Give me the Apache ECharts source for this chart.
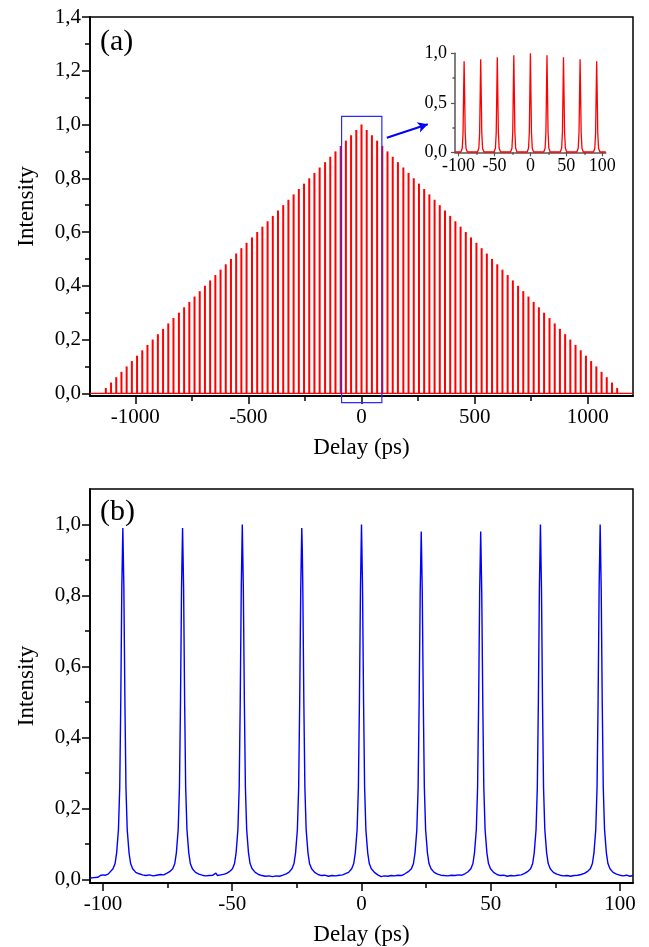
<!DOCTYPE html>
<html>
<head>
<meta charset="utf-8">
<script src="https://cdn.jsdelivr.net/npm/echarts@6/dist/echarts.min.js"></script>
<style>
html,body{margin:0;padding:0;background:#fff;}
#c{width:649px;height:947px;}
</style>
</head>
<body>
<div id="c"></div>
<script>
// ---------- Panel (a): spike centres (ps) and peak intensities ----------
const spikeDelays = [
  -1130,-1107,-1084,-1061,-1038,-1015,-992,-969,-946,-923,
  -900,-877,-854,-831,-807,-784,-761,-738,-715,-692,
  -669,-646,-623,-600,-577,-554,-531,-508,-484,-461,
  -438,-415,-392,-369,-346,-323,-300,-277,-254,-231,
  -208,-185,-161,-138,-115,-92,-69,-46,-23,
  0,
  23,46,69,92,115,138,161,185,208,
  231,254,277,300,323,346,369,392,415,438,
  461,484,508,531,554,577,600,623,646,669,
  692,715,738,761,784,807,831,854,877,900,
  923,946,969,992,1015,1038,1061,1084,1107,1130
];
const spikeIntensities = [
  0.02,0.04,0.06,0.08,0.10,0.12,0.14,0.16,0.18,0.20,
  0.22,0.24,0.26,0.28,0.30,0.32,0.34,0.36,0.38,0.40,
  0.42,0.44,0.46,0.48,0.50,0.52,0.54,0.56,0.58,0.60,
  0.62,0.64,0.66,0.68,0.70,0.72,0.74,0.76,0.78,0.80,
  0.82,0.84,0.86,0.88,0.90,0.92,0.94,0.96,0.98,
  1.00,
  0.98,0.96,0.94,0.92,0.90,0.88,0.86,0.84,0.82,
  0.80,0.78,0.76,0.74,0.72,0.70,0.68,0.66,0.64,0.62,
  0.60,0.58,0.56,0.54,0.52,0.50,0.48,0.46,0.44,0.42,
  0.40,0.38,0.36,0.34,0.32,0.30,0.28,0.26,0.24,0.22,
  0.20,0.18,0.16,0.14,0.12,0.10,0.08,0.06,0.04,0.02
];
const baselineA = [[-1200, 0], [1200, 0]];
// zoom box: [x1, y1, x2, y2] in data units
const zoomBox = [[-88, 1.03, 90, -0.035]];
const zoomArrow = [[112, 0.951], [293, 1.001]];

// ---------- Inset of (a): trace around zero delay ----------
const insetTrace = [
  [-105,0.003],
  [-96.8,0.003],[-94.9,0.04],[-93.8,0.2],[-93.0,0.6],[-92.3,0.92],[-91.6,0.6],[-90.8,0.2],[-89.7,0.04],[-87.8,0.003],
  [-73.7,0.003],[-71.8,0.04],[-70.7,0.2],[-69.9,0.6],[-69.2,0.94],[-68.5,0.6],[-67.7,0.2],[-66.6,0.04],[-64.7,0.003],
  [-50.6,0.003],[-48.7,0.04],[-47.6,0.2],[-46.8,0.6],[-46.1,0.96],[-45.4,0.6],[-44.6,0.2],[-43.5,0.04],[-41.6,0.003],
  [-27.6,0.003],[-25.7,0.04],[-24.6,0.2],[-23.8,0.62],[-23.1,0.98],[-22.4,0.62],[-21.6,0.2],[-20.5,0.04],[-18.6,0.003],
  [-4.5,0.003],[-2.6,0.04],[-1.5,0.2],[-0.7,0.62],[0,1.00],[0.7,0.62],[1.5,0.2],[2.6,0.04],[4.5,0.003],
  [18.6,0.003],[20.5,0.04],[21.6,0.2],[22.4,0.62],[23.1,0.98],[23.8,0.62],[24.6,0.2],[25.7,0.04],[27.6,0.003],
  [41.6,0.003],[43.5,0.04],[44.6,0.2],[45.4,0.6],[46.1,0.96],[46.8,0.6],[47.6,0.2],[48.7,0.04],[50.6,0.003],
  [64.7,0.003],[66.6,0.04],[67.7,0.2],[68.5,0.6],[69.2,0.94],[69.9,0.6],[70.7,0.2],[71.8,0.04],[73.7,0.003],
  [87.8,0.003],[89.7,0.04],[90.8,0.2],[91.6,0.6],[92.3,0.92],[93.0,0.6],[93.8,0.2],[94.9,0.04],[96.8,0.003],
  [105,0.003]
];

// ---------- Panel (b): measured trace ----------
const traceB = [
  [-105,0.004],[-103.5,0.005],[-102,0.006],[-101,0.011],[-100,0.013],[-99,0.012],[-98,0.015],
  [-97.3,0.02],[-96.1,0.03],[-95.3,0.045],[-94.7,0.075],[-94.0,0.14],[-93.5,0.26],[-93.1,0.50],[-92.7,0.82],
  [-92.3,0.99],[-91.9,0.82],[-91.5,0.50],[-91.1,0.26],[-90.6,0.14],[-89.9,0.075],[-89.3,0.045],[-88.5,0.03],[-87.3,0.02],
  [-86.0,0.016],[-84.7,0.013],[-83.4,0.011],[-82.0,0.013],[-80.6,0.010],[-79.2,0.012],[-77.8,0.014],[-76.5,0.013],[-75.2,0.018],
  [-74.2,0.022],[-73.0,0.03],[-72.2,0.045],[-71.6,0.075],[-70.9,0.14],[-70.4,0.26],[-70.0,0.50],[-69.6,0.82],
  [-69.2,0.99],[-68.8,0.82],[-68.4,0.50],[-68.0,0.26],[-67.5,0.14],[-66.8,0.075],[-66.2,0.045],[-65.4,0.03],[-64.2,0.02],
  [-62.9,0.015],[-61.6,0.012],[-60.3,0.010],[-58.9,0.011],[-57.5,0.012],[-56.3,0.018],[-55.7,0.011],[-54.4,0.013],[-53.0,0.015],[-52.0,0.018],
  [-51.1,0.022],[-49.9,0.03],[-49.1,0.045],[-48.5,0.075],[-47.8,0.14],[-47.3,0.26],[-46.9,0.50],[-46.5,0.82],
  [-46.1,1.00],[-45.7,0.82],[-45.3,0.50],[-44.9,0.26],[-44.4,0.14],[-43.7,0.075],[-43.1,0.045],[-42.3,0.03],[-41.1,0.02],
  [-39.8,0.014],[-38.5,0.011],[-37.2,0.009],[-35.8,0.010],[-34.4,0.008],[-33.0,0.010],[-31.7,0.009],[-30.4,0.012],[-29.1,0.016],
  [-28.1,0.02],[-26.9,0.03],[-26.1,0.045],[-25.5,0.075],[-24.8,0.14],[-24.3,0.26],[-23.9,0.50],[-23.5,0.82],
  [-23.1,0.99],[-22.9,0.93],[-22.7,0.82],[-22.3,0.50],[-21.9,0.26],[-21.4,0.14],[-20.7,0.075],[-20.1,0.045],[-19.3,0.03],[-18.1,0.02],
  [-16.8,0.014],[-15.5,0.011],[-14.2,0.012],[-12.8,0.009],[-11.4,0.011],[-10.0,0.010],[-8.6,0.012],[-7.3,0.013],[-6.0,0.017],
  [-5.0,0.02],[-3.8,0.03],[-3.0,0.045],[-2.4,0.075],[-1.7,0.14],[-1.2,0.26],[-0.8,0.50],[-0.4,0.82],
  [0,1.00],[0.4,0.82],[0.8,0.50],[1.2,0.26],[1.7,0.14],[2.4,0.075],[3.0,0.045],[3.8,0.03],[5.0,0.02],
  [6.3,0.013],[7.6,0.008],[8.9,0.010],[10.2,0.009],[11.5,0.011],[12.8,0.010],[14.1,0.012],[15.4,0.011],[16.8,0.016],
  [18.1,0.022],[19.3,0.03],[20.1,0.045],[20.7,0.075],[21.4,0.14],[21.9,0.26],[22.3,0.50],[22.7,0.81],
  [23.1,0.98],[23.5,0.81],[23.9,0.50],[24.3,0.26],[24.8,0.14],[25.5,0.075],[26.1,0.045],[26.9,0.03],[28.1,0.02],
  [29.4,0.015],[30.7,0.012],[32.0,0.011],[33.4,0.010],[34.8,0.012],[36.1,0.011],[37.5,0.013],[38.8,0.012],[40.0,0.016],
  [41.1,0.021],[42.3,0.03],[43.1,0.045],[43.7,0.075],[44.4,0.14],[44.9,0.26],[45.3,0.50],[45.7,0.81],
  [46.1,0.98],[46.5,0.81],[46.9,0.50],[47.3,0.26],[47.8,0.14],[48.5,0.075],[49.1,0.045],[49.9,0.03],[51.1,0.02],
  [52.4,0.014],[53.7,0.011],[55.0,0.012],[56.4,0.009],[57.8,0.011],[59.1,0.010],[60.5,0.012],[61.8,0.013],[63.1,0.017],
  [64.2,0.022],[65.4,0.03],[66.2,0.045],[66.8,0.075],[67.5,0.14],[68.0,0.26],[68.4,0.50],[68.8,0.82],
  [69.2,1.00],[69.6,0.82],[70.0,0.50],[70.4,0.26],[70.9,0.14],[71.6,0.075],[72.2,0.045],[73.0,0.03],[74.2,0.02],
  [75.5,0.015],[76.8,0.012],[78.1,0.010],[79.5,0.011],[80.9,0.009],[82.2,0.011],[83.6,0.012],[84.9,0.014],[86.2,0.017],
  [87.3,0.022],[88.5,0.03],[89.3,0.045],[89.9,0.075],[90.6,0.14],[91.1,0.26],[91.5,0.50],[91.9,0.82],
  [92.3,1.00],[92.7,0.82],[93.1,0.50],[93.5,0.26],[94.0,0.14],[94.7,0.075],[95.3,0.045],[96.1,0.03],[97.3,0.02],
  [98.6,0.015],[99.9,0.012],[101.2,0.010],[102.5,0.012],[103.8,0.009],[105,0.011]
];

// ---------- Tick values ----------
const xMajorA = [-1000, -500, 0, 500, 1000];
const xMinorA = [-750, -250, 250, 750];
const yMajorA = [0, 0.2, 0.4, 0.6, 0.8, 1.0, 1.2, 1.4];
const yMinorA = [0.1, 0.3, 0.5, 0.7, 0.9, 1.1, 1.3];
const xMajorInset = [-100, -50, 0, 50, 100];
const xMinorInset = [-75, -25, 25, 75];
const yMajorInset = [0, 0.5, 1.0];
const yMinorInset = [0.25, 0.75];
const xMajorB = [-100, -50, 0, 50, 100];
const xMinorB = [-75, -25, 25, 75];
const yMajorB = [0, 0.2, 0.4, 0.6, 0.8, 1.0];
const yMinorB = [0.1, 0.3, 0.5, 0.7, 0.9];

// ---------- Chart ----------
const FONT = "'Liberation Serif','Times New Roman',serif";
const comma = v => v.toFixed(1).replace('.', ',');
const plain = v => String(v);

function mainAxis(kind, grid, min, max, major, fmt, name, nameGap) {
  return {
    type: 'value', gridIndex: grid, min: min, max: max,
    position: kind === 'y' ? 'left' : 'bottom',
    axisLine: { show: true, onZero: false, lineStyle: { color: '#000', width: 1.8 } },
    axisTick: { show: true, inside: false, length: 8, customValues: major, lineStyle: { color: '#000', width: 1.5 } },
    axisLabel: { show: true, customValues: major, formatter: fmt, color: '#000', fontFamily: FONT, fontSize: 21, margin: kind === 'x' ? 11 : 9 },
    splitLine: { show: false },
    name: name, nameLocation: 'middle', nameGap: nameGap,
    nameTextStyle: { color: '#000', fontFamily: FONT, fontSize: 23 }
  };
}
function minorAxis(kind, grid, min, max, minor, len, color) {
  return {
    type: 'value', gridIndex: grid, min: min, max: max,
    position: kind === 'y' ? 'left' : 'bottom',
    axisLine: { show: false, onZero: false },
    axisTick: { show: true, inside: false, length: len, customValues: minor, lineStyle: { color: color, width: 1.5 } },
    axisLabel: { show: false },
    splitLine: { show: false }
  };
}
function insetAxis(kind, grid, min, max, major, fmt) {
  return {
    type: 'value', gridIndex: grid, min: min, max: max,
    position: kind === 'y' ? 'left' : 'bottom',
    axisLine: { show: true, onZero: false, lineStyle: { color: '#555', width: 1.5 } },
    axisTick: { show: true, inside: false, length: 4, customValues: major, lineStyle: { color: '#555', width: 1.2 } },
    axisLabel: { show: true, customValues: major, formatter: fmt, color: '#000', fontFamily: FONT, fontSize: 18, margin: kind === 'x' ? 5 : 8 },
    splitLine: { show: false }
  };
}

const chart = echarts.init(document.getElementById('c'), null, { renderer: 'canvas' });
chart.setOption({
  animation: false,
  backgroundColor: '#fff',
  title: [
    { text: '(a)', left: 100, top: 27, padding: 0, textStyle: { fontFamily: FONT, fontSize: 30, fontWeight: 'normal', color: '#000' } },
    { text: '(b)', left: 100, top: 497, padding: 0, textStyle: { fontFamily: FONT, fontSize: 30, fontWeight: 'normal', color: '#000' } }
  ],
  grid: [
    { left: 90, right: 16, top: 17, height: 379, show: true, borderColor: '#000', borderWidth: 1.5, backgroundColor: 'transparent', containLabel: false },
    { left: 455, width: 150.8, top: 53.3, height: 99, show: false, containLabel: false },
    { left: 90, right: 16, top: 489, height: 397.7, show: true, borderColor: '#000', borderWidth: 1.5, backgroundColor: 'transparent', containLabel: false }
  ],
  xAxis: [
    mainAxis('x', 0, -1200, 1200, xMajorA, plain, 'Delay (ps)', 40),
    minorAxis('x', 0, -1200, 1200, xMinorA, 5, '#000'),
    insetAxis('x', 1, -105, 105, xMajorInset, plain),
    minorAxis('x', 1, -105, 105, xMinorInset, 2.5, '#555'),
    mainAxis('x', 2, -105, 105, xMajorB, plain, 'Delay (ps)', 40),
    minorAxis('x', 2, -105, 105, xMinorB, 5, '#000')
  ],
  yAxis: [
    mainAxis('y', 0, -0.01, 1.4, yMajorA, comma, 'Intensity', 52),
    minorAxis('y', 0, -0.01, 1.4, yMinorA, 5, '#000'),
    insetAxis('y', 1, 0, 1.0, yMajorInset, comma),
    minorAxis('y', 1, 0, 1.0, yMinorInset, 2.5, '#555'),
    mainAxis('y', 2, -0.01, 1.1, yMajorB, comma, 'Intensity', 52),
    minorAxis('y', 2, -0.01, 1.1, yMinorB, 5, '#000')
  ],
  series: [
    {
      type: 'bar', xAxisIndex: 0, yAxisIndex: 0, silent: true,
      data: spikeDelays.map((d, i) => [d, spikeIntensities[i]]),
      barWidth: 2, itemStyle: { color: '#ff0000' }, z: 2
    },
    {
      type: 'line', xAxisIndex: 0, yAxisIndex: 0, silent: true, clip: false,
      data: baselineA, showSymbol: false, symbol: 'none',
      lineStyle: { color: '#ff0000', width: 1.2 }, z: 3,
      markLine: {
        silent: true, z: 6,
        symbol: ['none', 'arrow'], symbolSize: [8, 10],
        label: { show: false },
        lineStyle: { color: '#0000ff', width: 2, type: 'solid' },
        data: [[{ coord: zoomArrow[0] }, { coord: zoomArrow[1] }]]
      }
    },
    {
      type: 'custom', xAxisIndex: 0, yAxisIndex: 0, silent: true, clip: false, z: 6,
      data: zoomBox,
      renderItem: function (params, api) {
        const p1 = api.coord([api.value(0), api.value(1)]);
        const p2 = api.coord([api.value(2), api.value(3)]);
        return {
          type: 'rect',
          shape: { x: Math.min(p1[0], p2[0]), y: Math.min(p1[1], p2[1]), width: Math.abs(p2[0] - p1[0]), height: Math.abs(p2[1] - p1[1]) },
          style: { fill: 'none', stroke: '#2b2bff', lineWidth: 1.2 }
        };
      }
    },
    {
      type: 'line', xAxisIndex: 2, yAxisIndex: 2, silent: true,
      data: insetTrace, showSymbol: false, symbol: 'none',
      lineStyle: { color: '#ff0000', width: 1.3 }, z: 4
    },
    {
      type: 'line', xAxisIndex: 4, yAxisIndex: 4, silent: true,
      data: traceB, showSymbol: false, symbol: 'none', sampling: null,
      lineStyle: { color: '#0000ff', width: 1.4 }, z: 3
    }
  ]
});
</script>
</body>
</html>
